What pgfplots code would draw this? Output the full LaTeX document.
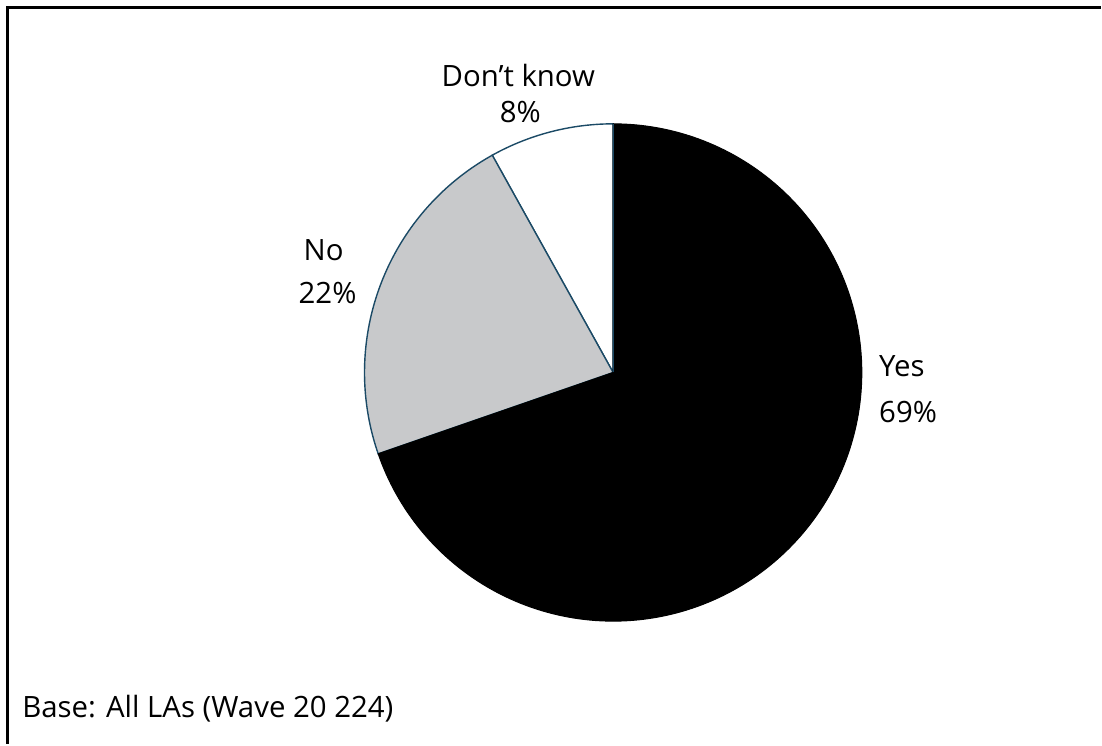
\documentclass[border=0pt]{standalone}
\usepackage{pgfplots}
\usepackage{pgfplotstable}
\pgfplotsset{compat=1.18}
\usepackage{fontspec}
\setmainfont{Open Sans}
\definecolor{edge}{HTML}{1B4A66}
\definecolor{nogray}{HTML}{C8C9CB}
\pgfplotstableread{
label value
DontKnow 8
No 22
Yes 69
}\piedata
\newcommand\lbl{\fontsize{14.7}{18}\selectfont}
\begin{document}%
\begin{tikzpicture}
\pgfplotstablegetelem{0}{value}\of\piedata\let\vA\pgfplotsretval
\pgfplotstablegetelem{1}{value}\of\piedata\let\vB\pgfplotsretval
\pgfplotstablegetelem{2}{value}\of\piedata\let\vC\pgfplotsretval
\pgfmathsetmacro{\tot}{\vA+\vB+\vC}
\pgfmathsetmacro{\aA}{90}
\pgfmathsetmacro{\aB}{90+360*\vA/\tot}
\pgfmathsetmacro{\aC}{\aB+360*\vB/\tot}
\pgfmathsetmacro{\aD}{450}
\begin{axis}[
  scale only axis, width=551pt, height=372.5pt,
  xmin=0, xmax=1102, ymin=0, ymax=745,
  hide axis, clip=false,
]
\path (axis cs:0,0) rectangle (axis cs:1102,745);
\addplot[draw=edge, line width=0.7pt, fill=white, domain=\aA:\aB, samples=60]
  ({614+249*cos(x)},{372+249*sin(x)}) -- (axis cs:614,372) -- cycle;
\addplot[draw=edge, line width=0.7pt, fill=nogray, domain=\aB:\aC, samples=80]
  ({614+249*cos(x)},{372+249*sin(x)}) -- (axis cs:614,372) -- cycle;
\addplot[draw=black, line width=0.5pt, fill=black, domain=\aC:\aD, samples=200]
  ({614+249*cos(x)},{372+249*sin(x)}) -- (axis cs:614,372) -- cycle;
\draw[edge, line width=0.5pt] (axis cs:614,372) -- (axis cs:614,621);
\draw[line width=1.5pt] (axis cs:8,0) -- (axis cs:8,737) -- (axis cs:1102,737);
\node[anchor=base, font=\lbl] at (axis cs:519,658) {Don’t know};
\node[anchor=base, font=\lbl] at (axis cs:521,622) {8\%};
\node[anchor=base, font=\lbl] at (axis cs:324,484) {No};
\node[anchor=base, font=\lbl] at (axis cs:328,441) {22\%};
\node[anchor=base west, inner sep=0pt, font=\lbl] at (axis cs:880,368) {Yes};
\node[anchor=base west, inner sep=0pt, font=\lbl] at (axis cs:880,322) {69\%};
\node[anchor=base west, inner sep=0pt, font=\lbl] at (axis cs:22,27) {Base: All LAs (Wave 20 224)};
\end{axis}
\end{tikzpicture}%
\end{document}
